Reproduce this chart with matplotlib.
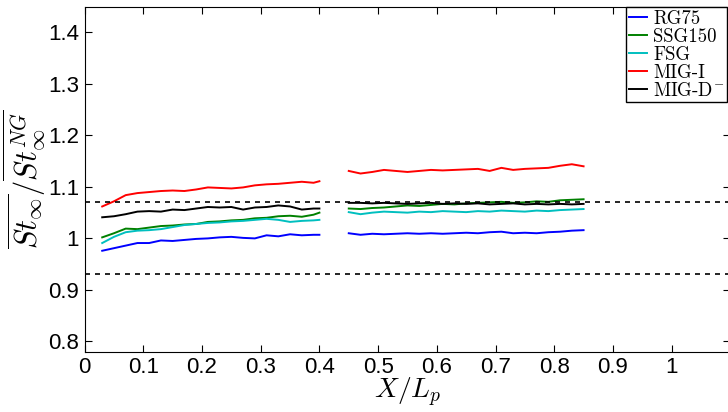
import matplotlib
matplotlib.use("Agg")
import matplotlib.pyplot as plt
from matplotlib.ticker import FuncFormatter

plt.rcParams['mathtext.fontset'] = 'cm'
plt.rcParams['font.family'] = ['Liberation Sans', 'DejaVu Sans']

# x positions of the two measurement windows
x_a = [0.03, 0.05, 0.07, 0.09, 0.11, 0.13, 0.15, 0.17, 0.19, 0.21,
       0.23, 0.25, 0.27, 0.29, 0.31, 0.33, 0.35, 0.37, 0.39, 0.40]
x_b = [0.45, 0.47, 0.49, 0.51, 0.53, 0.55, 0.57, 0.59, 0.61, 0.63, 0.65,
       0.67, 0.69, 0.71, 0.73, 0.75, 0.77, 0.79, 0.81, 0.83, 0.85]

rg75_a = [0.976, 0.981, 0.986, 0.991, 0.991, 0.996, 0.995, 0.997, 0.999, 1.000,
          1.002, 1.003, 1.001, 1.000, 1.006, 1.004, 1.008, 1.006, 1.007, 1.007]
rg75_b = [1.010, 1.007, 1.009, 1.008, 1.009, 1.010, 1.009, 1.010, 1.009, 1.010, 1.011,
          1.010, 1.012, 1.013, 1.010, 1.011, 1.010, 1.012, 1.013, 1.015, 1.016]

ssg150_a = [1.002, 1.010, 1.019, 1.018, 1.021, 1.024, 1.025, 1.027, 1.028, 1.032,
            1.033, 1.035, 1.036, 1.039, 1.040, 1.043, 1.044, 1.042, 1.046, 1.050]
ssg150_b = [1.058, 1.057, 1.059, 1.060, 1.062, 1.064, 1.063, 1.065, 1.067, 1.066, 1.068,
            1.069, 1.070, 1.071, 1.069, 1.070, 1.072, 1.071, 1.074, 1.075, 1.076]

fsg_a = [0.991, 1.003, 1.012, 1.015, 1.016, 1.018, 1.022, 1.026, 1.028, 1.030,
         1.031, 1.033, 1.034, 1.036, 1.038, 1.036, 1.032, 1.034, 1.035, 1.036]
fsg_b = [1.051, 1.047, 1.050, 1.052, 1.051, 1.050, 1.052, 1.051, 1.053, 1.052, 1.051,
         1.053, 1.052, 1.054, 1.053, 1.052, 1.054, 1.053, 1.055, 1.056, 1.057]

migi_a = [1.062, 1.072, 1.084, 1.088, 1.090, 1.092, 1.093, 1.092, 1.095, 1.099,
          1.098, 1.097, 1.099, 1.103, 1.105, 1.106, 1.108, 1.110, 1.108, 1.111]
migi_b = [1.131, 1.126, 1.129, 1.133, 1.131, 1.129, 1.131, 1.133, 1.132, 1.133, 1.134,
          1.135, 1.131, 1.137, 1.133, 1.135, 1.136, 1.137, 1.141, 1.144, 1.140]

migd_a = [1.041, 1.043, 1.047, 1.052, 1.053, 1.052, 1.056, 1.055, 1.058, 1.061,
          1.060, 1.061, 1.056, 1.060, 1.061, 1.064, 1.062, 1.056, 1.058, 1.058]
migd_b = [1.069, 1.069, 1.068, 1.069, 1.068, 1.067, 1.068, 1.069, 1.067, 1.068, 1.067,
          1.068, 1.066, 1.067, 1.068, 1.066, 1.067, 1.066, 1.067, 1.066, 1.067]

bounds = [1.07, 0.93]

series = [
    ('RG75', rg75_a, rg75_b, '#0000ff'),
    ('SSG150', ssg150_a, ssg150_b, '#008000'),
    ('FSG', fsg_a, fsg_b, '#00bfbf'),
    ('MIG-I', migi_a, migi_b, '#ff0000'),
    ('MIG-D$^{-}$', migd_a, migd_b, '#000000'),
]

fig = plt.figure(figsize=(7.28, 4.12), dpi=100)
ax = fig.add_axes([0.1162, 0.1464, 0.887, 0.8374])

for label, ya, yb, col in series:
    ax.plot(x_a, ya, color=col, lw=1.4, label=label)
    ax.plot(x_b, yb, color=col, lw=1.4)

for b in bounds:
    ax.axhline(b, color='black', lw=1.2, ls=(0, (3, 3)))

ax.set_xlim(0, 1.1)
ax.set_ylim(0.78, 1.45)
ax.set_xticks([0, 0.1, 0.2, 0.3, 0.4, 0.5, 0.6, 0.7, 0.8, 0.9, 1.0])
ax.set_yticks([0.8, 0.9, 1.0, 1.1, 1.2, 1.3, 1.4])
fmt = FuncFormatter(lambda v, p: '%g' % round(v, 2))
ax.xaxis.set_major_formatter(fmt)
ax.yaxis.set_major_formatter(fmt)
ax.tick_params(direction='in', top=True, right=True, length=5, width=0.8,
               labelsize=16, pad=4)

ax.set_xlabel(r'$X/L_p$', fontsize=20, labelpad=-2)
ax.set_ylabel(r'$\overline{St_\infty}/\overline{St_\infty^{NG}}$', fontsize=22, labelpad=0)

leg = ax.legend(loc='upper right', bbox_to_anchor=(727 / 728, 1 - 7 / 412),
                bbox_transform=fig.transFigure, borderaxespad=0,
                prop={'family': 'cmr10', 'size': 13.5}, fancybox=False,
                edgecolor='black', framealpha=1, labelspacing=0.0,
                handlelength=1.0, handletextpad=0.3, borderpad=0.15)
leg.get_frame().set_linewidth(1.0)

fig.savefig('out.png', dpi=100)
